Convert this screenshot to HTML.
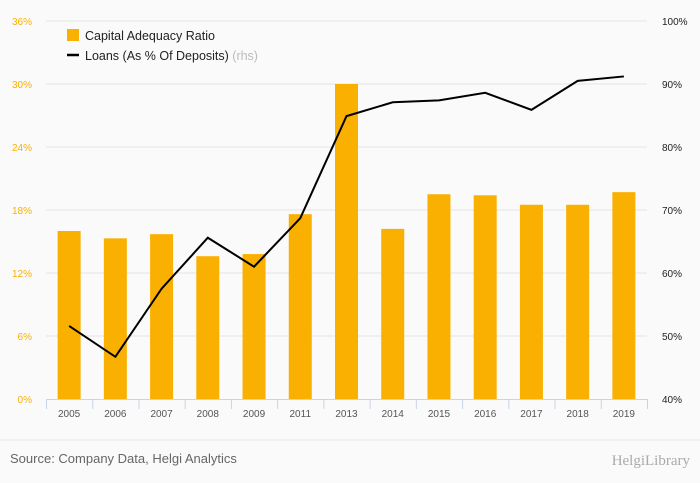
<!DOCTYPE html>
<html><head><meta charset="utf-8"><style>
body{margin:0;background:#fafafa;font-family:"Liberation Sans",sans-serif;}
svg{display:block}
</style></head><body>
<svg width="700" height="483">
<rect width="700" height="483" fill="#fafafa"/>
<g id="grid"></g><g id="bars"></g><g id="line"></g><g id="axes"></g>
<g>
<rect x="67" y="29" width="12" height="12" fill="#f9b000"/>
<text x="85" y="40" font-size="12.5" fill="#222">Capital Adequacy Ratio</text>
<line x1="67" y1="55" x2="79" y2="55" stroke="#000" stroke-width="2.5"/>
<text x="85" y="60" font-size="12.5" fill="#222">Loans (As % Of Deposits) <tspan fill="#bbb">(rhs)</tspan></text>
</g>
<line x1="0" y1="440" x2="700" y2="440" stroke="#e6e6e6"/>
<text x="10" y="463" font-size="13" fill="#666">Source: Company Data, Helgi Analytics</text>
<text x="690" y="465" font-size="15" fill="#aaa" text-anchor="end" font-family="Liberation Serif,serif">HelgiLibrary</text>
</svg>
<script>
const categories=["2005","2006","2007","2008","2009","2011","2013","2014","2015","2016","2017","2018","2019"];
const carValues=[16.0,15.3,15.7,13.6,13.8,17.6,30.0,16.2,19.5,19.4,18.5,18.5,19.7];
const loanValues=[51.6,46.7,57.5,65.6,61.0,68.7,84.9,87.1,87.4,88.6,85.9,90.5,91.2];
const leftTicks=[0,6,12,18,24,30,36];
const rightTicks=[40,50,60,70,80,90,100];
const NS="http://www.w3.org/2000/svg";
const x0=46,x1=647,yTop=21,yBot=399;
const step=(x1-x0)/categories.length;
const xC=i=>x0+step*(i+0.5);
const yL=v=>yBot-(v/36)*(yBot-yTop);
const yR=v=>yBot-((v-40)/60)*(yBot-yTop);
function mk(tag,attrs,parent,text){const e=document.createElementNS(NS,tag);for(const k in attrs)e.setAttribute(k,attrs[k]);if(text!==undefined)e.textContent=text;document.getElementById(parent).appendChild(e);return e;}
leftTicks.forEach((t,i)=>{
 const y=yL(t);
 if(t>0){const g=mk('line',{x1:x0,x2:x1,y1:y,y2:y,stroke:'#e4e4e4'},'grid');
 
 }
 const l=mk('text',{x:32,y:y+4,'font-size':10,fill:'#f9b000','text-anchor':'end'},'axes',t+'%');
 
 
});
rightTicks.forEach(t=>{
 const r=mk('text',{x:662,y:yR(t)+4,'font-size':10,fill:'#222'},'axes',t+'%');
 
 
});
const ax=mk('line',{x1:x0,x2:x1,y1:yBot+0.5,y2:yBot+0.5,stroke:'#c8d4e8'},'axes');


categories.forEach((c,i)=>{
 const tk=mk('line',{x1:x0+step*i+0.5,x2:x0+step*i+0.5,y1:yBot,y2:yBot+10,stroke:'#c8d4e8'},'axes');
 
 
 const lb=mk('text',{x:xC(i),y:417,'font-size':10,fill:'#555','text-anchor':'middle'},'axes',c);
 
 
 const b=mk('rect',{x:xC(i)-11.5,y:yL(carValues[i]),width:23,height:yBot-yL(carValues[i]),fill:'#f9b000'},'bars');
 
 
});
const tkE=mk('line',{x1:x1+0.5,x2:x1+0.5,y1:yBot,y2:yBot+10,stroke:'#c8d4e8'},'axes');


const pts=loanValues.map((v,i)=>xC(i)+','+yR(v)).join(' ');
const pl=mk('polyline',{points:pts,fill:'none',stroke:'#000','stroke-width':2},'line');


</script>
</body></html>
